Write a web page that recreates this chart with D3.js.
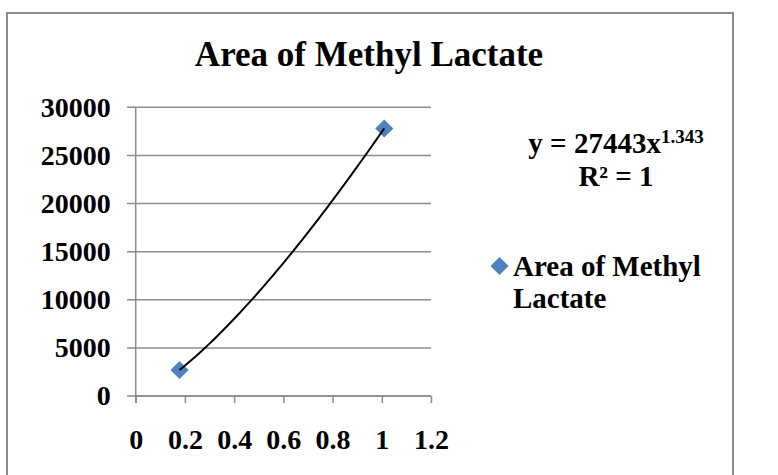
<!DOCTYPE html>
<html><head><meta charset="utf-8">
<script src="https://cdn.jsdelivr.net/npm/d3@7"></script>
<style>html,body{margin:0;padding:0;background:#fff;}svg{display:block;}</style>
</head><body>
<script>
const title = "Area of Methyl Lactate";
const seriesName = "Area of Methyl Lactate";
const xValues = [0.178, 1.01];
const yValues = [2700, 27800];
const xTicks = [0, 0.2, 0.4, 0.6, 0.8, 1, 1.2];
const yTicks = [0, 5000, 10000, 15000, 20000, 25000, 30000];
const fitA = 27443, fitB = 1.343;

const W = 778, H = 475;
const font = "'Liberation Serif','Times New Roman',serif";
const svg = d3.select("body").append("svg").attr("width", W).attr("height", H);
svg.append("rect").attr("width", W).attr("height", H).attr("fill", "#fff");
svg.append("rect").attr("x", 7).attr("y", 13).attr("width", 726).attr("height", 480)
  .attr("fill", "none").attr("stroke", "#8c8c8c").attr("stroke-width", 2);

const x = d3.scaleLinear().domain([0, 1.2]).range([135.7, 431]);
const y = d3.scaleLinear().domain([0, 30000]).range([396, 107.3]);

svg.append("text").attr("x", 369).attr("y", 66).attr("text-anchor", "middle")
  .attr("font-family", font).attr("font-weight", "bold").attr("font-size", 35).text(title);

// gridlines
svg.append("g").selectAll("line").data(yTicks).join("line")
  .attr("x1", 127).attr("x2", 431).attr("y1", d => y(d)).attr("y2", d => y(d))
  .attr("stroke", "#8c8c8c").attr("stroke-width", 1.5);

// y axis
const yAxis = d3.axisLeft(y).tickValues(yTicks).tickSize(0).tickPadding(25).tickFormat(d3.format("d"));
const gy = svg.append("g").attr("transform", `translate(${x(0)},0)`).call(yAxis);
gy.select(".domain").remove();
gy.selectAll("text").attr("font-family", font).attr("font-weight", "bold").attr("font-size", 28).attr("fill", "#000");
svg.append("line").attr("x1", x(0)).attr("x2", x(0)).attr("y1", y(30000)).attr("y2", y(0) + 7)
  .attr("stroke", "#8c8c8c").attr("stroke-width", 1.5);

// x axis
const xAxis = d3.axisBottom(x).tickValues(xTicks).tickSize(7).tickPadding(26).tickFormat(d => String(d));
const gx = svg.append("g").attr("transform", `translate(0,${y(0)})`).call(xAxis);
gx.select(".domain").attr("stroke", "#8c8c8c").attr("stroke-width", 1.5).attr("d", `M${x(0)},0H${x(1.2)}`);
gx.selectAll(".tick line").attr("stroke", "#8c8c8c").attr("stroke-width", 1.5);
gx.selectAll("text").attr("font-family", font).attr("font-weight", "bold").attr("font-size", 28).attr("fill", "#000");

// markers
const diamond = d3.symbol().type(d3.symbolSquare).size(165);
svg.append("g").selectAll("path").data(xValues).join("path")
  .attr("d", diamond)
  .attr("transform", (d, i) => `translate(${x(d)},${y(yValues[i])}) rotate(45)`)
  .attr("fill", "#4f81bd");

// trendline (power fit shown in the label)
const xmin = d3.min(xValues), xmax = d3.max(xValues);
const trend = d3.range(0, 51).map(i => { const xv = xmin + (xmax - xmin) * i / 50; return [xv, fitA * Math.pow(xv, fitB)]; });
svg.append("path").datum(trend)
  .attr("d", d3.line().x(d => x(d[0])).y(d => y(d[1])).curve(d3.curveBasis))
  .attr("fill", "none").attr("stroke", "#000").attr("stroke-width", 2);

// equation
const eq = svg.append("text").attr("x", 616).attr("y", 153).attr("text-anchor", "middle")
  .attr("font-family", font).attr("font-weight", "bold").attr("font-size", 29);
eq.append("tspan").text(`y = ${fitA}x`);
eq.append("tspan").attr("font-size", 19).attr("dy", -10).text(String(fitB));
svg.append("text").attr("x", 616).attr("y", 186).attr("text-anchor", "middle")
  .attr("font-family", font).attr("font-weight", "bold").attr("font-size", 29).text("R² = 1");

// legend
svg.append("path").attr("d", diamond).attr("transform", "translate(499.5,266) rotate(45)").attr("fill", "#4f81bd");
const lg = svg.append("text").attr("font-family", font).attr("font-weight", "bold").attr("font-size", 29);
const words = seriesName.split(" ");
lg.append("tspan").attr("x", 513).attr("y", 276).text(words.slice(0, 3).join(" "));
lg.append("tspan").attr("x", 513).attr("y", 308).text(words.slice(3).join(" "));
</script>
</body></html>
